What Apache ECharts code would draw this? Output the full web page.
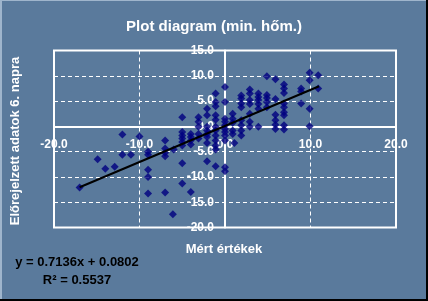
<!DOCTYPE html>
<html>
<head>
<meta charset="utf-8">
<script src="https://cdn.jsdelivr.net/npm/echarts@6/dist/echarts.min.js"></script>
<style>
html,body{margin:0;padding:0;background:#5a7a9c;}
#chart{width:428px;height:301px;}
</style>
</head>
<body>
<div id="chart"></div>
<script>
var measured = [
  -17.0, -14.9, -14.0, -12.9, -12.0, -12.0, -11.0, -10.0,
  -9.0, -9.0, -9.0, -9.0, -9.0,
  -7.0, -7.0, -7.0, -7.0, -7.0, -6.0, -6.1,
  -5.0, -5.0, -5.0, -5.0, -5.0, -5.0, -5.0, -5.0,
  -4.0, -4.0, -4.0, -4.0, -4.0,
  -3.1, -3.1, -3.1, -3.1, -3.1,
  -2.1, -2.1, -2.1, -2.1, -2.1, -2.1, -2.1, -2.1,
  -1.1, -1.1, -1.1, -1.1, -1.1, -1.1, -1.1, -1.1, -1.1, -1.1, -1.1, -1.1,
  0.0, 0.0, 0.0, 0.0, 0.0, 0.0, 0.0, 0.0, 0.0, 0.0, 0.0,
  0.9, 0.9, 0.9, 0.9, 0.9, 1.1,
  1.9, 1.9, 1.9, 1.9, 1.9, 1.9, 1.9, 1.9,
  2.9, 2.9, 2.9, 2.9, 2.9, 2.9, 2.9,
  3.9, 3.9, 3.9, 3.9, 3.9, 3.9,
  4.9, 4.9, 4.9, 4.9, 4.9,
  5.9, 5.9, 5.9, 5.9, 5.9, 5.9,
  6.9, 6.9, 6.9, 6.9, 6.9, 6.9, 6.9, 6.9, 6.9,
  8.9, 8.9, 8.9,
  9.9, 9.9, 9.9, 9.9,
  10.9, 10.9
];
var forecast = [
  -12.1, -6.5, -8.4, -8.0, -1.6, -5.6, -5.6, -2.0,
  -5.0, -5.6, -8.6, -10.0, -13.3,
  -2.8, -4.4, -5.2, -5.9, -13.1, -4.6, -17.4,
  1.8, -1.1, -1.8, -2.4, -3.1, -3.8, -7.3, -11.3,
  -1.5, -2.1, -2.8, -3.6, -13.0,
  1.8, 0.9, -0.1, -1.5, -2.4,
  3.5, 2.2, -0.1, -0.8, -1.5, -2.1, -3.3, -6.9,
  6.5, 4.8, 4.0, 2.2, 1.3, -0.1, -0.8, -1.8, -2.8, -3.8, -4.6, -7.9,
  7.8, 4.8, 1.5, 0.9, 0.2, -0.5, -1.1, -1.8, -2.8, -8.1, -8.9,
  2.5, 1.5, 0.7, -0.8, -1.5, -3.3,
  6.1, 5.5, 4.5, 3.8, 1.2, 0.2, -0.8, -1.8,
  7.3, 6.5, 5.2, 4.4, 2.5, 0.9, -0.1,
  6.5, 5.8, 5.2, 4.4, 3.5, -0.1,
  9.9, 6.2, 5.6, 4.8, 3.8,
  9.3, 5.4, 2.3, 1.2, 0.3, -0.5,
  8.3, 7.5, 6.6, 4.5, 3.8, 2.8, 2.2, 0.2, -0.6,
  7.5, 6.9, 4.5,
  10.6, 9.1, 3.5, 0.0,
  10.1, 7.5
];
// Linear trend line end points as drawn
var trendX = [-17.0, 11.0];
var trendY = [-12.05, 7.93];
// Axis ticks
var xTicks = [-20, -10, 0, 10, 20];
var yTicks = [-20, -15, -10, -5, 0, 5, 10, 15];
var titleText = 'Plot diagram (min. hőm.)';
var xTitle = 'Mért értékek';
var yTitle = 'Előrejelzett adatok 6. napra';
var eqLine1 = 'y = 0.7136x + 0.0802';
var eqLine2 = 'R² = 0.5537';

var points = measured.map(function (x, i) { return [x, forecast[i]]; });
var trend = trendX.map(function (x, i) { return [x, trendY[i]]; });

var FONT = '"Liberation Sans", Arial, sans-serif';
var GL = 54, GR = 32, GT = 50.5, GB = 73.5, W = 428, H = 301;
var gw = W - GL - GR, gh = H - GT - GB;
var xMin = xTicks[0], xMax = xTicks[xTicks.length - 1];
var yMin = yTicks[0], yMax = yTicks[yTicks.length - 1];
// move axes (with labels) onto the zero lines
var yAxisOffset = -gw * (0 - xMin) / (xMax - xMin);
var xAxisOffset = -gh * (0 - yMin) / (yMax - yMin);

var chart = echarts.init(document.getElementById('chart'), null, {renderer: 'canvas'});
var labelStyle = {color: '#fff', fontFamily: FONT, fontWeight: 'bold', fontSize: 12,
  formatter: function (v) { return v.toFixed(1); }};
var splitStyle = {show: true, lineStyle: {color: '#fff', width: 1, type: [4, 3]}};

chart.setOption({
  backgroundColor: '#5a7a9c',
  animation: false,
  title: {
    text: titleText, left: 'center', top: 14,
    textStyle: {color: '#fff', fontFamily: FONT, fontWeight: 'bold', fontSize: 15}
  },
  grid: {
    left: GL, right: GR, top: GT, bottom: GB,
    show: true, borderColor: '#fff', borderWidth: 2, backgroundColor: 'transparent'
  },
  xAxis: {
    type: 'value', min: xMin, max: xMax, interval: 10, position: 'bottom', offset: xAxisOffset,
    axisLine: {onZero: false, lineStyle: {color: '#fff', width: 2}},
    axisTick: {show: false},
    axisLabel: Object.assign({margin: 12}, labelStyle),
    splitLine: splitStyle
  },
  yAxis: {
    type: 'value', min: yMin, max: yMax, interval: 5, position: 'left', offset: yAxisOffset,
    axisLine: {onZero: false, lineStyle: {color: '#fff', width: 2}},
    axisTick: {show: false},
    axisLabel: Object.assign({margin: 11}, labelStyle),
    splitLine: splitStyle
  },
  series: [
    {
      type: 'scatter', data: points, symbol: 'diamond', symbolSize: 8,
      itemStyle: {color: '#000080'}, z: 3
    },
    {
      type: 'line', data: trend, symbol: 'none',
      lineStyle: {color: '#000', width: 2}, z: 4
    }
  ],
  graphic: [
    {type: 'rect', shape: {x: 0, y: 0, width: 428, height: 1}, style: {fill: '#9fb5cc'}},
    {type: 'rect', shape: {x: 0, y: 0, width: 2, height: 301}, style: {fill: '#9fb5cc'}},
    {type: 'rect', shape: {x: 426, y: 0, width: 2, height: 301}, style: {fill: '#000'}},
    {type: 'rect', shape: {x: 0, y: 299, width: 428, height: 2}, style: {fill: '#000'}},
    {
      type: 'text', x: 15, y: 141, rotation: Math.PI / 2,
      style: {text: yTitle, fill: '#fff', font: 'bold 13px ' + FONT, align: 'center', verticalAlign: 'middle'}
    },
    {
      type: 'text', x: 224, y: 249,
      style: {text: xTitle, fill: '#fff', font: 'bold 13px ' + FONT, align: 'center', verticalAlign: 'middle'}
    },
    {
      type: 'text', x: 77, y: 262,
      style: {text: eqLine1, fill: '#000', font: 'bold 13px ' + FONT, align: 'center', verticalAlign: 'middle'}
    },
    {
      type: 'text', x: 77, y: 280,
      style: {text: eqLine2, fill: '#000', font: 'bold 13px ' + FONT, align: 'center', verticalAlign: 'middle'}
    }
  ]
});
</script>
</body>
</html>
